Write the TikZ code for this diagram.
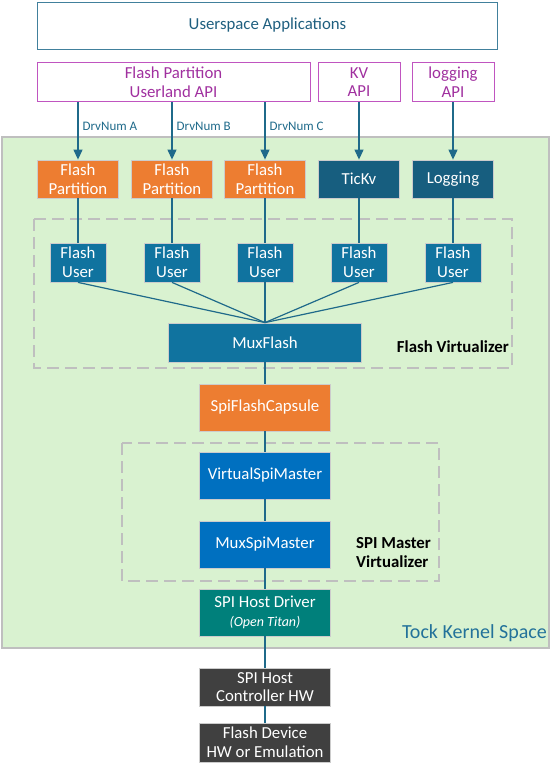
\documentclass[tikz,border=0pt]{standalone}
\usepackage{fontspec}
\setmainfont{Carlito}
\usetikzlibrary{arrows.meta}
\definecolor{orng}{HTML}{ED7D31}
\definecolor{dteal}{HTML}{175E7F}
\definecolor{mblue}{HTML}{10739F}
\definecolor{sblue}{HTML}{0070C0}
\definecolor{drvteal}{HTML}{00807B}
\definecolor{hwgray}{HTML}{404040}
\definecolor{kgreen}{HTML}{D9F2D0}
\definecolor{wirecol}{HTML}{1F6A8A}
\definecolor{apiline}{HTML}{C055C0}
\definecolor{apitext}{HTML}{A0309F}
\definecolor{apptext}{HTML}{1F5F7F}
\definecolor{appline}{HTML}{41809C}
\definecolor{kerntext}{HTML}{23729A}
\tikzset{font=\fontsize{16.8}{18.6}\selectfont}
\tikzset{
  box/.style={draw=black!20, line width=0.8pt, text=white, align=center, inner sep=0pt},
  apibox/.style={draw=apiline, line width=1pt, text=apitext, align=center, inner sep=0pt, minimum height=39pt},
  wire/.style={draw=wirecol, line width=1.2pt},
  arr/.style={wire, -{Triangle[width=9pt,length=10pt]}},
  drvlbl/.style={text=wirecol, font=\fontsize{13}{15}\selectfont, inner sep=4pt},
  virt/.style={draw=black!25, line width=2pt, dash pattern=on 12pt off 6pt},
  grplbl/.style={font=\fontsize{16.8}{19}\selectfont\bfseries, align=left, inner sep=0pt}
}

\begin{document}
\begin{tikzpicture}[x=1pt,y=-1pt]
  \useasboundingbox (0,0) rectangle (558,771);

  % kernel space and virtualizer groups
  \draw[fill=kgreen, draw=black!25, line width=1.5pt] (2,137) rectangle (549,648);
  \draw[virt] (34,219) rectangle (512,368);
  \draw[virt] (122,443) rectangle (439,581);
  \node[anchor=east, text=kerntext, font=\fontsize{20}{24}\selectfont, inner sep=0pt] (kern) at (547,633) {Tock Kernel Space};
  \node[grplbl, anchor=east] (fvlbl) at (509,347) {Flash Virtualizer};
  \node[grplbl, anchor=west] (svlbl) at (356,553) {SPI Master\\Virtualizer};

  % userspace
  \node[draw=appline, line width=1pt, text=apptext, minimum width=460pt, minimum height=47pt] (apps) at (267.5,25.5) {Userspace Applications};
  \node[apibox, minimum width=273pt] (fpapi) at (173.5,82) {Flash Partition\\Userland API};
  \node[apibox, minimum width=82pt] (kvapi) at (359,82) {KV\\API};
  \node[apibox, minimum width=82pt] (logapi) at (453,82) {logging\\API};

  % capsules
  \foreach \i/\xx in {1/78, 2/172, 3/265}{
    \node[box, fill=orng, minimum width=81pt, minimum height=38pt] (fp\i) at (\xx,179) {Flash\\Partition};
  }
  \node[box, fill=dteal, minimum width=81pt, minimum height=38pt] (fp4) at (359,179) {TicKv};
  \node[box, fill=dteal, minimum width=81pt, minimum height=38pt] (fp5) at (453,179) {Logging};
  \foreach \i/\xx in {1/78, 2/172, 3/265, 4/359, 5/453}{
    \node[box, fill=mblue, minimum width=56pt, minimum height=39pt] (fu\i) at (\xx,262.5) {Flash\\User};
  }
  \node[box, fill=mblue, minimum width=193pt, minimum height=39pt] (mux) at (265,342.5) {MuxFlash};
  \node[box, fill=orng, minimum width=131pt, minimum height=47pt] (cap) at (265,407.5) {SpiFlashCapsule};
  \node[box, fill=sblue, minimum width=131pt, minimum height=47pt] (vsm) at (265,475.5) {VirtualSpiMaster};
  \node[box, fill=sblue, minimum width=131pt, minimum height=47pt] (msm) at (265,544.5) {MuxSpiMaster};
  \node[box, fill=drvteal, minimum width=131pt, minimum height=47pt] (host) at (265,612.5) {SPI Host Driver\\{\fontsize{14}{16}\selectfont\itshape (Open Titan)}};
  \node[box, fill=hwgray, minimum width=131pt, minimum height=38pt] (ctl) at (265,687) {SPI Host\\Controller HW};
  \node[box, fill=hwgray, minimum width=131pt, minimum height=39pt] (dev) at (265,742.5) {Flash Device\\HW or Emulation};

  % connectors
  \foreach \i/\l in {1/A, 2/B, 3/C}{
    \draw[arr] (fp\i |- fpapi.south) -- node[drvlbl, right, pos=0.42] (drv\l) {DrvNum \l} (fp\i.north);
  }
  \draw[arr] (kvapi.south) -- (fp4.north);
  \draw[arr] (logapi.south) -- (fp5.north);
  \foreach \i in {1,...,5}{
    \draw[wire] (fp\i.south) -- (fu\i.north);
    \draw[wire] (fu\i.south) -- (mux.north);
  }
  \foreach \a/\b in {mux/cap, cap/vsm, vsm/msm, msm/host, host/ctl, ctl/dev}
    \draw[wire] (\a.south) -- (\b.north);
\end{tikzpicture}
\end{document}
